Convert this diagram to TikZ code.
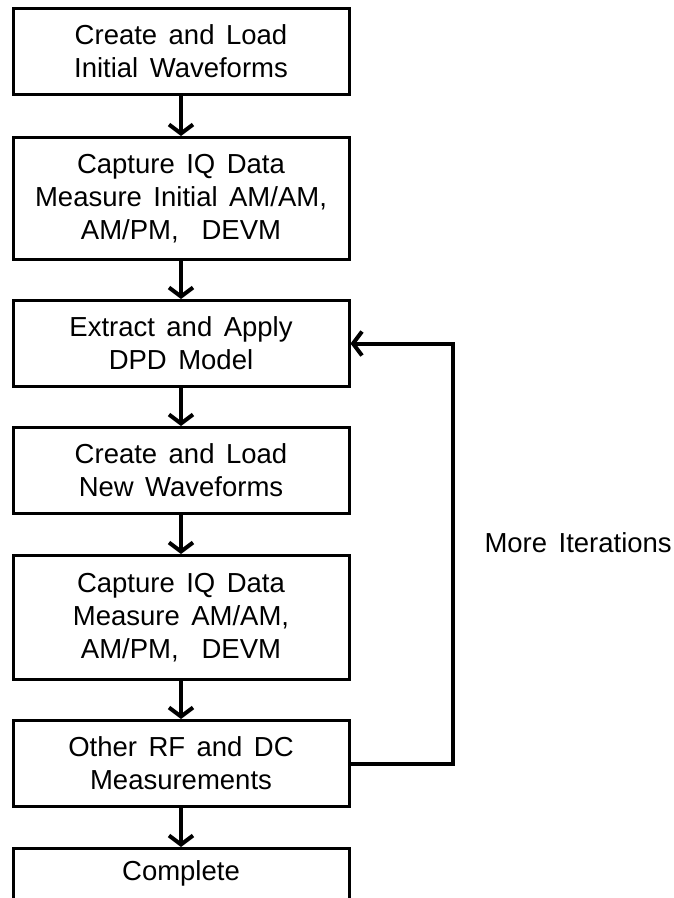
\documentclass[tikz,border=0pt]{standalone}
\usepackage{fontspec}
\setmainfont[WordSpace=1.5]{Liberation Sans}
\usetikzlibrary{positioning}
\usetikzlibrary{arrows.meta}

\begin{document}
\begin{tikzpicture}[x=1pt, y=-1pt, node distance=40pt,
  stepbox/.style={draw, line width=3pt, minimum width=336pt, minimum height=86pt,
    align=center, inner sep=0pt, font=\fontsize{27.5}{33}\selectfont},
  tallbox/.style={stepbox, minimum height=122pt},
  flow/.style={line width=4pt, -{Straight Barb[length=9pt, width=24pt]}}]

  \useasboundingbox (0,0) rectangle (674,898);
  \clip (0,0) rectangle (674,898);

  % steps
  \node[stepbox] (load) at (181,51.5) {Create and Load\\Initial Waveforms};
  \node[tallbox, below=40pt of load] (capture) {Capture IQ Data\\Measure Initial AM/AM,\\AM/PM,~ DEVM};
  \node[stepbox, below=38pt of capture] (extract) {Extract and Apply\\DPD Model};
  \node[stepbox, below=38pt of extract] (newload) {Create and Load\\New Waveforms};
  \node[tallbox, minimum height=124pt, below=39pt of newload] (measure) {Capture IQ Data\\Measure AM/AM,\\AM/PM,~ DEVM};
  \node[stepbox, below=38pt of measure] (other) {Other RF and DC\\Measurements};
  \node[stepbox, below=39pt of other] (done) {Complete\\\strut};

  % main flow
  \draw[flow] (load) to (capture);
  \draw[flow] (capture) to (extract);
  \draw[flow] (extract) to (newload);
  \draw[flow] (newload) to (measure);
  \draw[flow] (measure) to (other);
  \draw[flow] (other) to (done);

  % loop back
  \coordinate (rail) at (453,0);
  \coordinate (loopbot) at (rail |- other.east);
  \coordinate (looptop) at (rail |- extract.east);
  \draw[flow, line join=miter] (other.east) to (loopbot) to (looptop) to (extract.east);
  \node[anchor=west, font=\fontsize{27.5}{33}\selectfont] (more) at (481,543) {More Iterations};
\end{tikzpicture}
\end{document}
